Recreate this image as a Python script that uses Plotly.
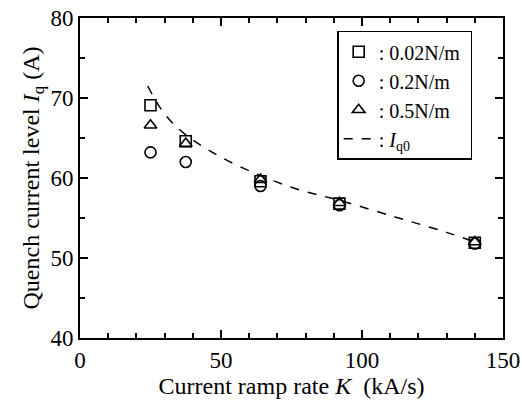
import plotly.graph_objects as go

# Data
K_sq = [25, 37.5, 64, 92, 140]
I_sq = [69.1, 64.6, 59.6, 56.8, 51.9]
K_ci = [25, 37.5, 64, 92, 140]
I_ci = [63.2, 62.0, 59.0, 56.6, 51.8]
K_tr = [25, 37.5, 64, 92, 140]
I_tr = [66.6, 64.3, 59.8, 56.9, 52.0]
K_fit = [24, 30, 37.5, 50, 64, 77, 92, 112, 130, 140]
I_fit = [71.5, 68.0, 65.4, 62.6, 60.3, 58.6, 57.2, 55.1, 53.2, 52.0]

FONT = "Liberation Serif"

fig = go.Figure()
mk = dict(color="black", size=11, line=dict(color="black", width=1.6))
fig.add_trace(go.Scatter(x=K_sq, y=I_sq, mode="markers", name=": 0.02N/m\u00a0",
                         marker=dict(symbol="square-open", **mk)))
fig.add_trace(go.Scatter(x=K_ci, y=I_ci, mode="markers", name=": 0.2N/m",
                         marker=dict(symbol="circle-open", **mk)))
fig.add_trace(go.Scatter(x=K_tr, y=I_tr, mode="markers", name=": 0.5N/m",
                         marker=dict(symbol="triangle-up-open", **mk)))
fig.add_trace(go.Scatter(x=K_fit, y=I_fit, mode="lines", name=": <i>I</i><sub>q0</sub>",
                         line=dict(color="black", width=1.5, dash="dash", shape="spline")))

axis_common = dict(showline=True, linecolor="black", linewidth=2, mirror="ticks",
                   ticks="inside", ticklen=8, tickwidth=1.5, tickcolor="black",
                   showgrid=False, zeroline=False, automargin=False,
                   ticklabeloverflow="allow",
                   tickfont=dict(family=FONT, size=23, color="black"))

fig.update_xaxes(range=[0, 150], dtick=50, tick0=0,
                 minor=dict(dtick=10, ticks="inside", ticklen=5, tickwidth=1.5, tickcolor="black"),
                 title=dict(text="Current ramp rate <i>K</i>  (kA/s)",
                            font=dict(family=FONT, size=24, color="black"), standoff=6),
                 **axis_common)
fig.update_yaxes(range=[40, 80], dtick=10, tick0=40,
                 minor=dict(dtick=5, ticks="inside", ticklen=5, tickwidth=1.5, tickcolor="black"),
                 title=dict(text="Quench current level <i>I</i><sub>q</sub> (A)",
                            font=dict(family=FONT, size=24, color="black"), standoff=4),
                 **axis_common)

fig.update_layout(
    width=522, height=407,
    margin=dict(l=80, r=19, t=18, b=69),
    plot_bgcolor="white", paper_bgcolor="white",
    font=dict(family=FONT, color="black"),
    legend=dict(x=0.608, y=0.96, xanchor="left", yanchor="top",
                bordercolor="black", borderwidth=1.5, bgcolor="white",
                font=dict(family=FONT, size=20, color="black"),
                tracegroupgap=0, itemwidth=30),
)

# remove the default page body margin so the figure fills the window exactly
fig.write_html("out.html",
               config={"displayModeBar": False},
               post_script="document.body.style.margin='0';document.body.style.overflow='hidden';")
